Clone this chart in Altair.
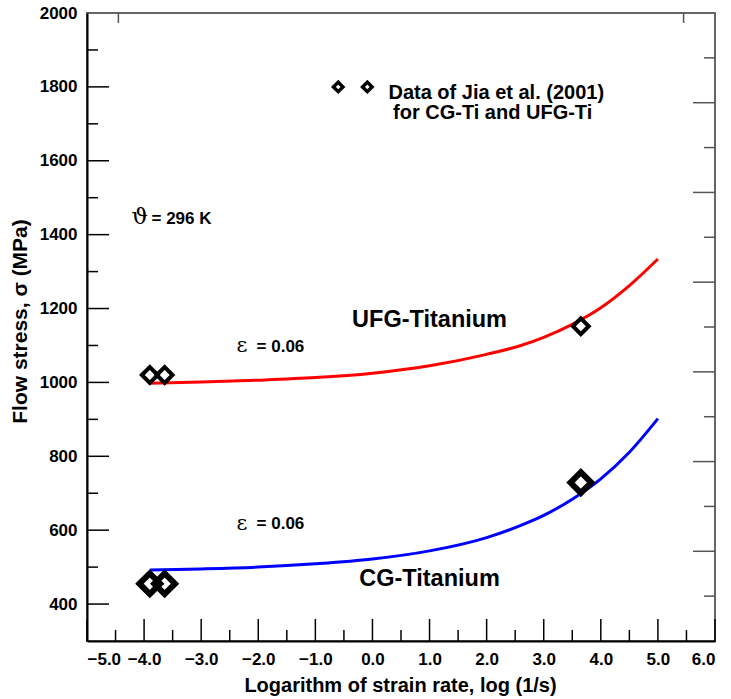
import altair as alt
import pandas as pd

# ---- data ----
x_curve = [-3.9, -3.0, -2.0, -1.0, 0.0, 1.0, 2.0, 2.6, 3.0, 3.5, 4.0, 4.5, 5.0]
ufg_curve = [998, 1001, 1006, 1013, 1025, 1045, 1076, 1100, 1122, 1157, 1202, 1262, 1334]
cg_curve = [492, 495, 500, 509, 522, 544, 580, 613, 640, 684, 739, 811, 902]

ufg_pts_x = [-3.9, -3.64, 3.65]
ufg_pts_y = [1020, 1020, 1152]
cg_pts_x = [-3.9, -3.64, 3.65]
cg_pts_y = [455, 455, 729]

legend_pts_x = [-0.6, -0.09]
legend_pts_y = [1800, 1800]

x_major = [-5, -4, -3, -2, -1, 0, 1, 2, 3, 4, 5, 6]
x_minor = [-4.5, -3.5, -2.5, -1.5, -0.5, 0.5, 1.5, 2.5, 3.5, 4.5, 5.5]
y_major = [400, 600, 800, 1000, 1200, 1400, 1600, 1800]
y_minor = [500, 700, 900, 1100, 1300, 1500, 1700, 1900]
right_major = [1, 2, 3, 4, 5, 6]
right_minor = [0.5, 1.5, 2.5, 3.5, 4.5, 5.5, 6.5]
top_ticks = [-4.45, 5.45]

FONT = "Liberation Sans"
XD = [-5, 6]
YD = [300, 2000]
xs = alt.Scale(domain=XD, nice=False, zero=False)
ys = alt.Scale(domain=YD, nice=False, zero=False)

curves = pd.DataFrame({"x": x_curve + x_curve,
                       "y": ufg_curve + cg_curve,
                       "s": ["UFG"] * len(x_curve) + ["CG"] * len(x_curve)})

base_line = alt.Chart(curves).mark_line(strokeWidth=3, interpolate="monotone").encode(
    x=alt.X("x:Q", scale=xs,
            axis=alt.Axis(title="Logarithm of strain rate, log (1/s)", values=x_major,
                          format=".1f", ticks=False, labelPadding=10,
                          titleX=313, titleY=44, titleBaseline="middle")),
    y=alt.Y("y:Q", scale=ys,
            axis=alt.Axis(title="Flow stress, σ (MPa)", values=y_major + [2000],
                          format="d", ticks=False, labelPadding=10, titleFontSize=21,
                          titleX=-67, titleY=308, titleBaseline="middle", titleAlign="center")),
    color=alt.Color("s:N", scale=alt.Scale(domain=["UFG", "CG"], range=["#ff0000", "#0000ff"]),
                    legend=None),
    detail="s:N",
)

ufg_df = pd.DataFrame({"x": ufg_pts_x, "y": ufg_pts_y})
cg_df = pd.DataFrame({"x": cg_pts_x, "y": cg_pts_y})
leg_df = pd.DataFrame({"x": legend_pts_x, "y": legend_pts_y})

ufg_pts = alt.Chart(ufg_df).mark_point(shape="diamond", filled=False, color="black",
                                        strokeWidth=4, size=250, opacity=1).encode(
    x=alt.X("x:Q", scale=xs), y=alt.Y("y:Q", scale=ys))
cg_pts = alt.Chart(cg_df).mark_point(shape="diamond", filled=False, color="black",
                                      strokeWidth=6, size=430, opacity=1).encode(
    x=alt.X("x:Q", scale=xs), y=alt.Y("y:Q", scale=ys))
leg_pts = alt.Chart(leg_df).mark_point(shape="diamond", filled=False, color="black",
                                        strokeWidth=3.5, size=90, opacity=1).encode(
    x=alt.X("x:Q", scale=xs), y=alt.Y("y:Q", scale=ys))

def ticks_y(vals, length):
    df = pd.DataFrame({"v": vals})
    return alt.Chart(df).mark_rule(color="black", strokeWidth=1.5).encode(
        y=alt.Y("v:Q", scale=ys), x=alt.value(0), x2=alt.value(length))

def ticks_x(vals, length):
    df = pd.DataFrame({"v": vals})
    return alt.Chart(df).mark_rule(color="black", strokeWidth=1.5).encode(
        x=alt.X("v:Q", scale=xs), y=alt.value(628 - length), y2=alt.value(628))

top_df = pd.DataFrame({"v": top_ticks})
top_t = alt.Chart(top_df).mark_rule(color="#555555", strokeWidth=1.5).encode(
    x=alt.X("v:Q", scale=xs), y=alt.value(0), y2=alt.value(10))

# annotations
def label(x, y, text, size, weight="bold", font=FONT, align="left"):
    df = pd.DataFrame({"x": [x], "y": [y], "t": [text]})
    return alt.Chart(df).mark_text(fontSize=size, fontWeight=weight, font=font,
                                   align=align, baseline="middle", color="black").encode(
        x=alt.X("x:Q", scale=xs), y=alt.Y("y:Q", scale=ys), text="t:N")

texts = [
    label(0.28, 1784, "Data of Jia et al. (2001)", 20),
    label(0.36, 1730, "for CG-Ti and UFG-Ti", 20),
    label(-4.22, 1447, "ϑ", 23, weight="normal", font="DejaVu Serif"),
    label(-3.87, 1443, "= 296 K", 17),
    label(1.0, 1168, "UFG-Titanium", 23.5, align="center"),
    label(1.0, 467, "CG-Titanium", 23.5, align="center"),
    label(-2.38, 1098, "ε", 21, weight="normal", font="DejaVu Serif"),
    label(-2.03, 1096, "=  0.06", 17),
    label(-2.38, 618, "ε", 21, weight="normal", font="DejaVu Serif"),
    label(-2.03, 616, "=  0.06", 17),
]

main = alt.layer(
    base_line, ufg_pts, cg_pts, leg_pts,
    ticks_y(y_major, 22), ticks_y(y_minor, 11),
    ticks_x(x_major, 22), ticks_x(x_minor, 11), top_t,
    *texts,
)

rdf_major = pd.DataFrame({"v": right_major})
rdf_minor = pd.DataFrame({"v": right_minor})
rs = alt.Scale(domain=[0, 7], nice=False, zero=False)
right_major_l = alt.Chart(rdf_major).mark_rule(color="#555555", strokeWidth=1.5).encode(
    y=alt.Y("v:Q", scale=rs, axis=None), x=alt.value(628 - 22), x2=alt.value(628))
right_minor_l = alt.Chart(rdf_minor).mark_rule(color="#555555", strokeWidth=1.5).encode(
    y=alt.Y("v:Q", scale=rs, axis=None), x=alt.value(628 - 11), x2=alt.value(628))
right = alt.layer(right_major_l, right_minor_l)

chart = alt.layer(main, right).resolve_scale(y="independent").properties(
    width=628, height=628,
    padding={"left": 87, "top": 13, "right": 16, "bottom": 58},
    autosize=alt.AutoSizeParams(type="none"),
).configure_view(
    stroke="#666666", strokeWidth=2,
).configure_axis(
    labelFont=FONT, labelFontWeight="bold", labelFontSize=17, labelColor="black",
    titleFont=FONT, titleFontWeight="bold", titleFontSize=20, titleColor="black",
    domainColor="black", domainWidth=2, grid=False,
)

chart.save("out.html", embed_options={"renderer": "svg", "actions": False})
